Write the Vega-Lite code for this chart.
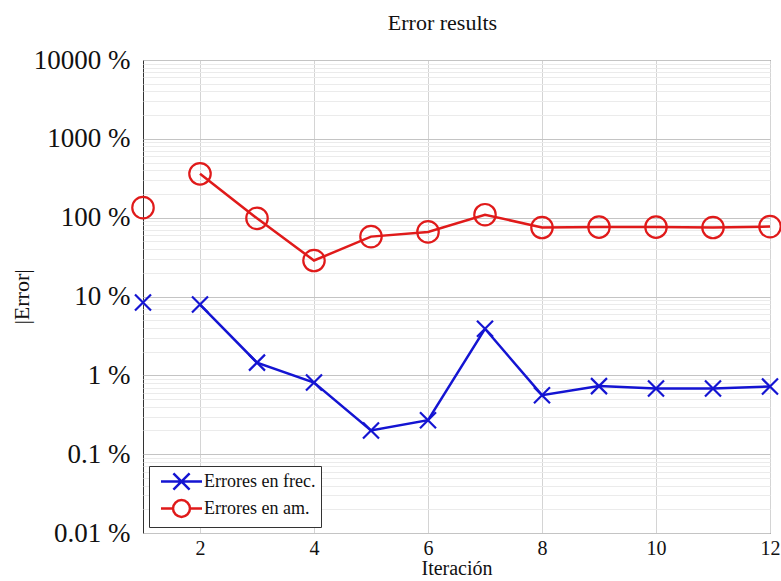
{
  "$schema": "https://vega.github.io/schema/vega-lite/v6.json",
  "autosize": "none",
  "width": 627,
  "height": 473,
  "padding": {"left": 143, "top": 60, "right": 11, "bottom": 48},
  "background": "white",
  "title": {"text": "Error results", "font": "Liberation Serif", "fontSize": 22, "fontWeight": "normal", "color": "#111", "offset": 11, "dx": -14},
  "config": {
    "view": {"stroke": "#333", "strokeWidth": 1},
    "font": "Liberation Serif",
    "legend": {"orient": "bottom-left", "offset": 6, "strokeColor": "#333", "fillColor": "white", "padding": 5,
      "labelFont": "Liberation Serif", "labelFontSize": 18, "labelColor": "#111", "symbolSize": 324, "symbolStrokeWidth": 2.5,
      "symbolOffset": 17, "labelOffset": 12, "rowPadding": 0, "symbolOpacity": 1}
  },
  "data": {"values": [
    {"it": 1, "err": 8.4, "serie": "Errores en frec.", "seg": "a"},
    {"it": 2, "err": 7.9, "serie": "Errores en frec.", "seg": "b"},
    {"it": 3, "err": 1.45, "serie": "Errores en frec.", "seg": "b"},
    {"it": 4, "err": 0.81, "serie": "Errores en frec.", "seg": "b"},
    {"it": 5, "err": 0.2, "serie": "Errores en frec.", "seg": "b"},
    {"it": 6, "err": 0.27, "serie": "Errores en frec.", "seg": "b"},
    {"it": 7, "err": 3.9, "serie": "Errores en frec.", "seg": "b"},
    {"it": 8, "err": 0.56, "serie": "Errores en frec.", "seg": "b"},
    {"it": 9, "err": 0.73, "serie": "Errores en frec.", "seg": "b"},
    {"it": 10, "err": 0.68, "serie": "Errores en frec.", "seg": "b"},
    {"it": 11, "err": 0.68, "serie": "Errores en frec.", "seg": "b"},
    {"it": 12, "err": 0.72, "serie": "Errores en frec.", "seg": "b"},
    {"it": 1, "err": 134, "serie": "Errores en am.", "seg": "a"},
    {"it": 2, "err": 360, "serie": "Errores en am.", "seg": "b"},
    {"it": 3, "err": 98, "serie": "Errores en am.", "seg": "b"},
    {"it": 4, "err": 28.6, "serie": "Errores en am.", "seg": "b"},
    {"it": 5, "err": 57.5, "serie": "Errores en am.", "seg": "b"},
    {"it": 6, "err": 66, "serie": "Errores en am.", "seg": "b"},
    {"it": 7, "err": 109, "serie": "Errores en am.", "seg": "b"},
    {"it": 8, "err": 75, "serie": "Errores en am.", "seg": "b"},
    {"it": 9, "err": 76, "serie": "Errores en am.", "seg": "b"},
    {"it": 10, "err": 76, "serie": "Errores en am.", "seg": "b"},
    {"it": 11, "err": 75, "serie": "Errores en am.", "seg": "b"},
    {"it": 12, "err": 77, "serie": "Errores en am.", "seg": "b"}
  ]},
  "encoding": {
    "x": {"field": "it", "type": "quantitative",
      "scale": {"domain": [1, 12], "nice": false, "zero": false},
      "axis": {"values": [2, 4, 6, 8, 10, 12], "title": "Iteración", "titleFont": "Liberation Serif", "titleFontSize": 20, "titleFontWeight": "normal", "titleColor": "#111", "titlePadding": 0,
        "labelFont": "Liberation Serif", "labelFontSize": 20, "labelColor": "#111", "labelPadding": 5, "ticks": false, "domain": false, "gridColor": "#d4d4d4", "labelFlush": false}},
    "y": {"field": "err", "type": "quantitative",
      "scale": {"type": "log", "domain": [0.01, 10000], "nice": false},
      "axis": {
        "values": [0.01,0.02,0.03,0.04,0.05,0.06,0.07,0.08,0.09,0.1,0.2,0.3,0.4,0.5,0.6,0.7,0.8,0.9,1,2,3,4,5,6,7,8,9,10,20,30,40,50,60,70,80,90,100,200,300,400,500,600,700,800,900,1000,2000,3000,4000,5000,6000,7000,8000,9000,10000],
        "labelExpr": "indexof([0.01,0.1,1,10,100,1000,10000], datum.value) >= 0 ? datum.value + ' %' : ''",
        "gridColor": {"condition": {"test": "indexof([0.01,0.1,1,10,100,1000,10000], datum.value) >= 0", "value": "#c4c4c4"}, "value": "#ebebeb"},
        "title": "|Error|", "titleFont": "Liberation Serif", "titleFontSize": 22, "titleFontWeight": "normal", "titleColor": "#111", "titlePadding": 0,
        "labelFont": "Liberation Serif", "labelFontSize": 27, "labelColor": "#111", "labelPadding": 13, "ticks": false, "domain": false, "labelFlush": false, "labelOverlap": false}},
    "color": {"field": "serie", "type": "nominal",
      "scale": {"domain": ["Errores en frec.", "Errores en am."], "range": ["#1414d2", "#e01a1a"]},
      "legend": {"title": null}}
  },
  "layer": [
    {"mark": {"type": "point", "filled": false, "opacity": 0, "strokeWidth": 2.5},
      "encoding": {
        "shape": {"field": "serie", "type": "nominal",
          "scale": {"domain": ["Errores en frec.", "Errores en am."], "range": ["M-2.28,0H2.28M-0.9,-0.9L0.9,0.9M-0.9,0.9L0.9,-0.9", "M-2.28,0H-0.94M0.94,0H2.28M0.94,0A0.94,0.94,0,1,1,-0.94,0A0.94,0.94,0,1,1,0.94,0"]},
          "legend": {"title": null}}
      }},
    {"mark": {"type": "line", "strokeWidth": 2.5}, "encoding": {"detail": {"field": "seg", "type": "nominal"}}},
    {"transform": [{"filter": "datum.serie === 'Errores en frec.'"}],
      "mark": {"type": "point", "filled": false, "strokeWidth": 2.2, "opacity": 1, "shape": "M-1,-1L1,1M-1,1L1,-1", "size": 256}},
    {"transform": [{"filter": "datum.serie === 'Errores en am.'"}],
      "mark": {"type": "point", "filled": false, "strokeWidth": 2.2, "opacity": 1, "shape": "circle", "size": 460}}
  ]
}
